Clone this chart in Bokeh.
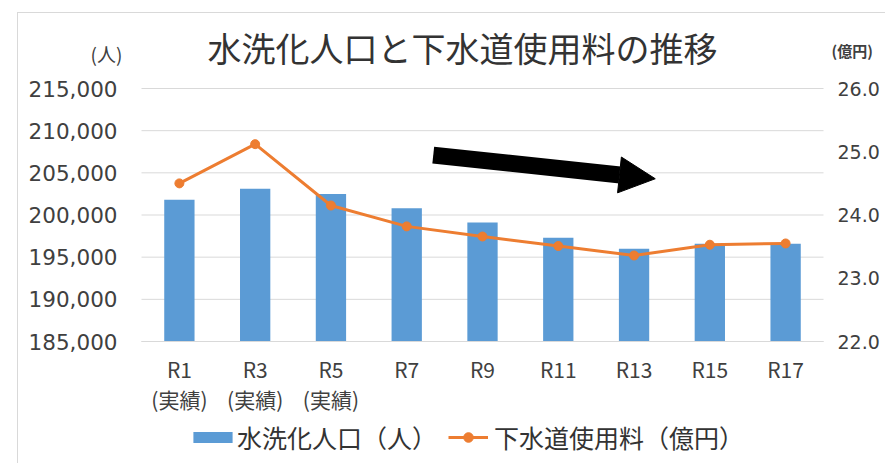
from bokeh.plotting import figure
from bokeh.models import (Range1d, LinearAxis, FixedTicker, NumeralTickFormatter,
                          Label, Legend, LegendItem, Arrow, NormalHead, ColumnDataSource)
from bokeh.embed import file_html
from bokeh.resources import INLINE

# ---- data ----
categories = ["R1", "R3", "R5", "R7", "R9", "R11", "R13", "R15", "R17"]
notes = ["(実績)", "(実績)", "(実績)", "", "", "", "", "", ""]
population = [201800, 203100, 202500, 200800, 199100, 197300, 196000, 196600, 196600]
fee = [24.50, 25.12, 24.15, 23.82, 23.66, 23.51, 23.36, 23.53, 23.55]
left_ticks = [185000, 190000, 195000, 200000, 205000, 210000, 215000]
right_ticks = [22.0, 23.0, 24.0, 25.0, 26.0]
title_text = "水洗化人口と下水道使用料の推移"
left_unit = "(人)"
right_unit = "(億円)"
bar_label = "水洗化人口（人）"
line_label = "下水道使用料（億円）"
arrow_from = (3.35, 207100)
arrow_to = (6.28, 204300)

# ---- styles / layout (page pixels) ----
BLUE = "#5B9BD5"
ORANGE = "#ED7D31"
GRID = "#D9D9D9"
TXT = "#404040"
CJK = "Noto Sans CJK JP"
NUM = "DejaVu Sans"

FX0, FY0, FW, FH = 18, 13, 868, 451        # canvas position on page
PL, PR, PT, PB = 141, 823, 88, 341          # plotting area on page

ncat = len(categories)
xlo, xhi = -0.5, ncat - 0.5
ymin, ymax = left_ticks[0], left_ticks[-1]
y2min, y2max = right_ticks[0], right_ticks[-1]
ux = (PR - PL) / (xhi - xlo)
uy = (PB - PT) / (ymax - ymin)
uy2 = (PB - PT) / (y2max - y2min)


def dx(px):
    return xlo + (px - PL) / ux


def dy(py):
    return ymin + (PB - py) / uy


def sx(px):
    return px - FX0


def sy(py):
    return FY0 + FH - py


xs = list(range(ncat))
src = ColumnDataSource(dict(x=xs, pop=population, fee=fee))

p = figure(width=FW, height=FH, output_backend="svg", toolbar_location=None,
           x_range=Range1d(dx(FX0), dx(FX0 + FW)),
           y_range=Range1d(dy(FY0 + FH), dy(FY0)))
p.min_border = 0
p.min_border_left = p.min_border_right = p.min_border_top = p.min_border_bottom = 0
p.styles = {"margin-left": "17px", "margin-top": "12px",
            "border-left": "1px solid #D9D9D9", "border-top": "1px solid #D9D9D9"}
p.outline_line_color = None
p.background_fill_color = "white"
p.border_fill_color = "white"
p.extra_y_ranges = {"fee": Range1d(y2min + (PB - (FY0 + FH)) / uy2, y2min + (PB - FY0) / uy2)}
p.xgrid.visible = False
p.ygrid.visible = False

# grid lines over the plotting area only
p.segment(x0=xlo, x1=xhi, y0=left_ticks, y1=left_ticks, line_color=GRID,
          line_width=1, level="underlay")

bar_r = p.vbar(x="x", top="pop", bottom=ymin, width=0.4, source=src,
               fill_color=BLUE, line_color=None)
line_r = p.line(x="x", y="fee", source=src, y_range_name="fee",
                line_color=ORANGE, line_width=3)
pt_r = p.scatter(x="x", y="fee", source=src, y_range_name="fee", size=9,
                 fill_color=ORANGE, line_color=ORANGE, marker="circle")

# x axis
xa = p.xaxis[0]
xa.fixed_location = ymin
xa.bounds = (xlo, xhi)
xa.ticker = FixedTicker(ticks=xs)
xa.major_label_overrides = {i: (c + "\n" + n if n else c) for i, (c, n) in enumerate(zip(categories, notes))}
xa.axis_line_color = GRID
xa.major_tick_line_color = None
xa.minor_tick_line_color = None
xa.major_label_text_font = CJK
xa.major_label_text_font_size = "21px"
xa.major_label_text_color = TXT
xa.major_label_text_line_height = 1.0
xa.major_label_standoff = 6

# left axis
ya = p.yaxis[0]
ya.fixed_location = xlo
ya.ticker = FixedTicker(ticks=left_ticks)
ya.formatter = NumeralTickFormatter(format="0,0")
ya.axis_line_color = None
ya.major_tick_line_color = None
ya.minor_tick_line_color = None
ya.major_label_text_font = NUM
ya.major_label_text_font_size = "21.5px"
ya.major_label_text_color = TXT
ya.major_label_standoff = 18

# right axis
ra = LinearAxis(y_range_name="fee", ticker=FixedTicker(ticks=right_ticks),
                formatter=NumeralTickFormatter(format="0.0"), fixed_location=xhi)
ra.axis_line_color = None
ra.major_tick_line_color = None
ra.minor_tick_line_color = None
ra.major_label_text_font = NUM
ra.major_label_text_font_size = "19px"
ra.major_label_text_color = TXT
ra.major_label_standoff = 8
p.add_layout(ra, "right")

# texts
p.add_layout(Label(x=dx(462), y=dy(47), text=title_text,
                   text_align="center", text_baseline="middle", text_font=CJK,
                   text_font_size="34px", text_color="#333333"))
p.add_layout(Label(x=dx(106), y=dy(53), text=left_unit,
                   text_align="center", text_baseline="middle", text_font=CJK,
                   text_font_size="19px", text_color=TXT))
p.add_layout(Label(x=dx(831), y=dy(50), text=right_unit,
                   text_align="left", text_baseline="middle", text_font=CJK,
                   text_font_size="15px", text_color=TXT, text_font_style="bold"))

# arrow
p.add_layout(Arrow(x_start=arrow_from[0], y_start=arrow_from[1],
                   x_end=arrow_to[0], y_end=arrow_to[1],
                   line_width=17, line_color="black",
                   end=NormalHead(size=36, fill_color="black", line_color="black", line_width=1)))

# legends
common = dict(orientation="horizontal", padding=0, margin=0, border_line_color=None,
              background_fill_alpha=0, label_text_font=CJK, label_text_font_size="25px",
              label_text_color="#333333")
leg1 = Legend(items=[LegendItem(label=bar_label, renderers=[bar_r])],
              location=(sx(188), sy(455)),
              glyph_width=49, glyph_height=14, label_standoff=0, **common)
leg2 = Legend(items=[LegendItem(label=line_label, renderers=[line_r, pt_r])],
              location=(sx(448), sy(455)),
              glyph_width=40, glyph_height=24, label_standoff=6, **common)
p.add_layout(leg1, "center")
p.add_layout(leg2, "center")

open("out.html", "w").write(file_html(p, INLINE))
